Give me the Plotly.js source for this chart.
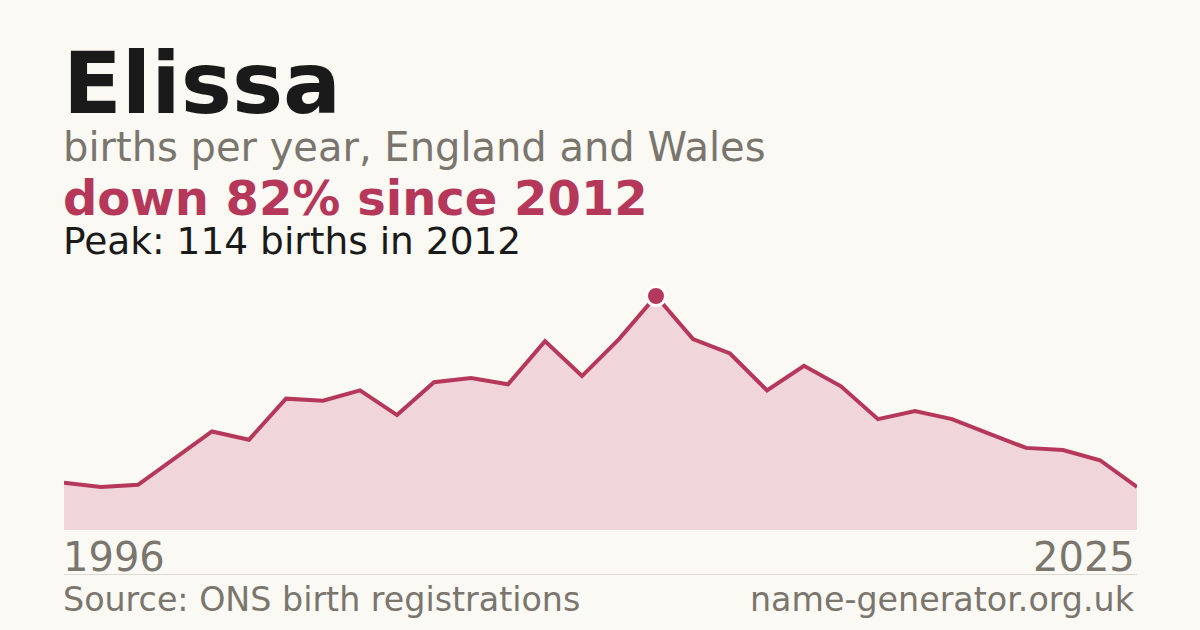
<!DOCTYPE html>
<html>
<head>
<meta charset="utf-8">
<script src="https://cdn.plot.ly/plotly-3.0.1.min.js"></script>
<style>
html,body{margin:0;padding:0;background:#faf9f4;}
#chart{width:1200px;height:630px;}
</style>
</head>
<body>
<div id="chart"></div>
<script>
const years = [1996,1997,1998,1999,2000,2001,2002,2003,2004,2005,2006,2007,2008,2009,2010,2011,2012,2013,2014,2015,2016,2017,2018,2019,2020,2021,2022,2023,2024,2025];
const births = [23,21,22,35,48,44,64,63,68,56,72,74,71,92,75,93,114,93,86,68,80,70,54,58,54,47,40,39,34,21];
const tickLabels = ["1996","2025"];
const titleText = "Elissa";
const subtitleText = "births per year, England and Wales";
const changeText = "down 82% since 2012";
const peakText = "Peak: 114 births in 2012";
const sourceText = "Source: ONS birth registrations";
const siteText = "name-generator.org.uk";

const crimson = "#b5385a";
const grey = "#7a756d";
const ink = "#1a1a1a";
const font = "DejaVu Sans, sans-serif";

let peakIdx = 0;
births.forEach((v,i)=>{ if (v > births[peakIdx]) peakIdx = i; });

const traces = [
  {
    x: years, y: births, type: "scatter", mode: "lines",
    line: {color: crimson, width: 4, shape: "linear"},
    fill: "tozeroy", fillcolor: "#f0d5da",
    hoverinfo: "skip"
  },
  {
    x: [years[peakIdx]], y: [births[peakIdx]], type: "scatter", mode: "markers",
    marker: {color: crimson, size: 19, line: {color: "#ffffff", width: 3}},
    cliponaxis: false, hoverinfo: "skip"
  }
];

// pixel helpers: plot area top=296, bottom=530
const pTop = 296, pBot = 530;
const py = p => (pBot - p) / (pBot - pTop);

const ann = (text, x, xanchor, y, size, color, bold, xref) => ({
  text: bold ? "<b>" + text + "</b>" : text,
  x: x, xref: xref || "paper", xanchor: xanchor,
  xshift: xanchor === "left" ? -3 : 0,
  y: y, yref: "paper", yanchor: "bottom",
  showarrow: false, align: xanchor,
  font: {family: font, size: size, color: color}
});

const layout = {
  width: 1200, height: 630,
  paper_bgcolor: "#faf9f4", plot_bgcolor: "#faf9f4",
  margin: {l: 64, r: 63, t: pTop, b: 630 - pBot},
  showlegend: false,
  xaxis: {range: [years[0], years[years.length-1]], showgrid: false, zeroline: false, showticklabels: false, showline: false, fixedrange: true},
  yaxis: {range: [0, Math.max(...births)], showgrid: false, zeroline: false, showticklabels: false, showline: false, fixedrange: true},
  annotations: [
    ann(titleText, 0, "left", py(114 + 0.236*86 + 1), 86, ink, true),
    ann(subtitleText, 0, "left", py(162 + 0.236*40 + 1), 40, grey, false),
    ann(changeText, 0, "left", py(216 + 0.236*48 + 1), 48, crimson, true),
    ann(peakText, 0, "left", py(255.5 + 0.236*37.5 + 1), 37.5, ink, false),
    ann(tickLabels[0], years[0], "left", py(571.5 + 0.236*40 + 1), 40, grey, false, "x"),
    ann(tickLabels[1], years[years.length-1], "right", py(571.5 + 0.236*40 + 1), 40, grey, false, "x"),
    ann(sourceText, 0, "left", py(612 + 0.236*33.3 + 1), 33.3, grey, false),
    ann(siteText, 1, "right", py(612 + 0.236*33.3 + 1), 33.3, grey, false)
  ],
  shapes: [
    {type: "line", xref: "paper", yref: "paper", x0: 0, x1: 1, y0: py(574.5), y1: py(574.5), line: {color: "#dcd9d2", width: 1}}
  ]
};

Plotly.newPlot("chart", traces, layout, {staticPlot: true, displayModeBar: false});
</script>
</body>
</html>
